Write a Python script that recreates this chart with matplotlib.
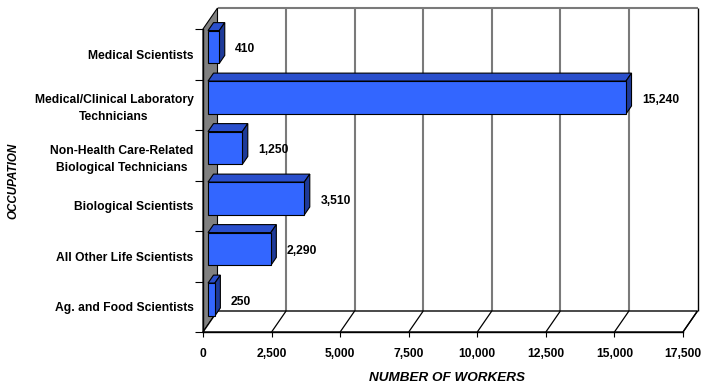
import numpy as np
import matplotlib
matplotlib.use("Agg")
import matplotlib.pyplot as plt
from matplotlib.patches import Polygon
from matplotlib.lines import Line2D
from matplotlib import transforms

# Occupations listed bottom-to-top, with their worker counts
occupations = [
    "Ag. and Food Scientists",
    "All Other Life Scientists",
    "Biological Scientists",
    "Non-Health Care-Related\nBiological Technicians",
    "Medical/Clinical Laboratory\nTechnicians",
    "Medical Scientists",
]
workers = [250, 2290, 3510, 1250, 15240, 410]

x_ticks = [0, 2500, 5000, 7500, 10000, 12500, 15000, 17500]
x_tick_labels = ["0", "2,500", "5,000", "7,500", "10,000", "12,500", "15,000", "17,500"]

x_label = "NUMBER OF WORKERS"
y_label = "OCCUPATION"

# 3-D box styling
DEPTH = np.array([14.5, 21.0])      # receding offset of the back plane, in pixels
BAR_FRONT, BAR_BACK = 0.345, 0.725  # bar depth range as fractions of DEPTH
BAR_HEIGHT = 0.65
FACE = "#3366FF"
TOP = "#2A4FCC"
SIDE = "#1E3A99"
WALL = "#808080"
GRID = "#7A7A7A"

plt.rcParams["font.family"] = ["Liberation Sans", "DejaVu Sans"]
plt.rcParams["font.weight"] = "bold"
FS = 8.7

W, H = 701, 386
fig = plt.figure(figsize=(W / 100, H / 100), dpi=100)
fig.patch.set_facecolor("white")
ax = fig.add_axes([203 / W, 54 / H, 480 / W, 303 / H])
ax.set_xlim(0, 17500)
ax.set_ylim(-0.5, len(occupations) - 0.5)
ax.patch.set_visible(False)

ident = transforms.IdentityTransform()
y_lo, y_hi = -0.5, len(occupations) - 0.5
x_hi = x_ticks[-1]


def disp(xs, ys, depth):
    """Data points pushed back into the box by a fraction of DEPTH, in display pixels."""
    pts = ax.transData.transform(np.column_stack([np.atleast_1d(xs), np.atleast_1d(ys)]))
    return pts + depth * DEPTH


def poly(points, fc, ec="black", lw=0.8, z=1):
    ax.add_patch(Polygon(points, closed=True, facecolor=fc, edgecolor=ec,
                         linewidth=lw, transform=ident, clip_on=False, zorder=z))


def line(points, color, lw, z=1.5):
    ax.add_line(Line2D(points[:, 0], points[:, 1], color=color, linewidth=lw,
                       transform=ident, clip_on=False, zorder=z,
                       solid_capstyle="butt"))


# Back wall with gridlines
back = disp([0, x_hi, x_hi, 0], [y_lo, y_lo, y_hi, y_hi], 1.0)
poly(back, "white", ec="none", z=0.5)
for xt in x_ticks[1:-1]:
    line(disp([xt, xt], [y_lo, y_hi], 1.0), GRID, 1.5, z=0.6)
line(disp([0, x_hi], [y_hi, y_hi], 1.0), GRID, 1.5, z=0.6)
line(disp([x_hi, x_hi], [y_lo, y_hi], 1.0), "black", 1.0, z=0.6)

# Left wall
wall = np.vstack([disp([0, 0], [y_lo, y_hi], 0.0), disp([0, 0], [y_hi, y_lo], 1.0)])
poly(wall, WALL, ec="black", lw=0.8, z=0.7)

# Floor with receding tick lines
floor = np.vstack([disp([0, x_hi], [y_lo, y_lo], 0.0), disp([x_hi, 0], [y_lo, y_lo], 1.0)])
poly(floor, "white", ec="black", lw=1.0, z=0.8)
for xt in x_ticks[1:]:
    line(np.vstack([disp(xt, y_lo, 0.0), disp(xt, y_lo, 1.0)]), "black", 0.9, z=0.9)

# Bars
half = BAR_HEIGHT / 2
for i, v in enumerate(workers):
    y0, y1 = i - half, i + half
    front = disp([0, v, v, 0], [y0, y0, y1, y1], BAR_FRONT)
    top = np.vstack([disp([0, v], [y1, y1], BAR_FRONT), disp([v, 0], [y1, y1], BAR_BACK)])
    side = np.vstack([disp([v, v], [y0, y1], BAR_FRONT), disp([v, v], [y1, y0], BAR_BACK)])
    poly(top, TOP, z=2)
    poly(side, SIDE, z=2)
    poly(front, FACE, z=2.1)
    off = BAR_FRONT * DEPTH + np.array([16, -2])
    ax.annotate(f"{v:,}", xy=(v, i), xytext=(off[0], off[1]), textcoords="offset pixels",
                ha="left", va="center", fontsize=FS, fontweight="bold", zorder=3,
                annotation_clip=False)

# Front axes: spines and ticks
for s in ("top", "right"):
    ax.spines[s].set_visible(False)
ax.spines["left"].set_linewidth(1.0)
ax.spines["bottom"].set_linewidth(1.0)
ax.spines["left"].set_zorder(1)
ax.spines["bottom"].set_zorder(1)

ax.set_xticks(x_ticks)
ax.set_xticklabels(x_tick_labels, fontsize=FS, fontweight="bold")
ax.tick_params(axis="x", direction="out", length=3.6, width=0.8, pad=7.8)

ax.set_yticks(np.arange(len(occupations) + 1) - 0.5)
ax.set_yticklabels([])
ax.tick_params(axis="y", which="major", direction="out", length=5.8, width=0.8)
ax.set_yticks(np.arange(len(occupations)), minor=True)
ax.set_yticklabels(occupations, minor=True, fontsize=FS, fontweight="bold",
                   multialignment="center", linespacing=1.55)
ax.tick_params(axis="y", which="minor", length=0, pad=6.8)

fig.text(13 / W, 1 - 181 / H, y_label, rotation=90, ha="center", va="center",
         fontsize=8.4, fontweight="bold", fontstyle="italic")
fig.text(447 / W, 1 - 378 / H, x_label, ha="center", va="center",
         fontsize=9.7, fontweight="bold", fontstyle="italic")

fig.savefig("out.png", dpi=100)
